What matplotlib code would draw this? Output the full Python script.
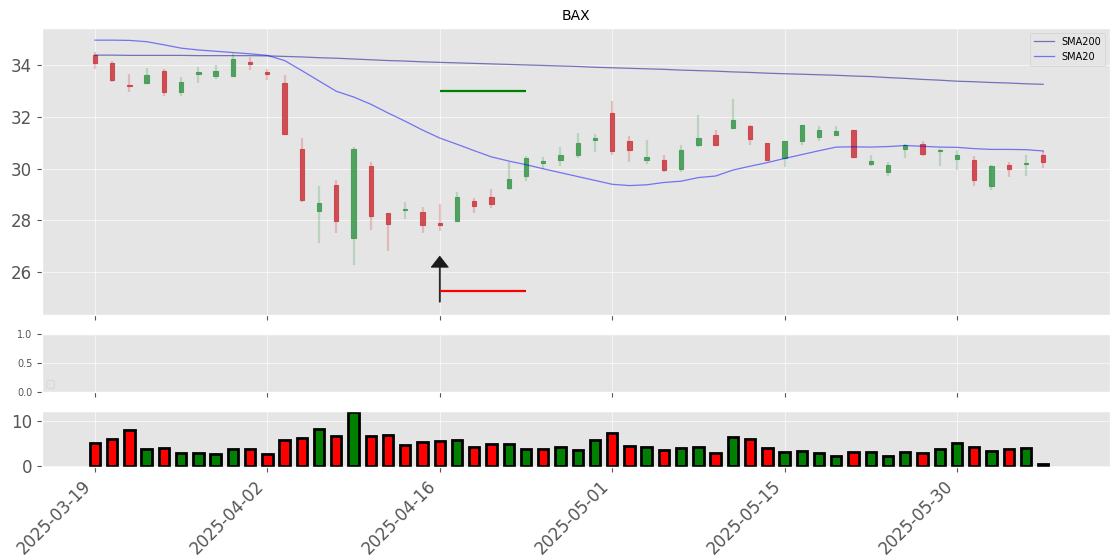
import numpy as np
import matplotlib
matplotlib.use("Agg")
import matplotlib.pyplot as plt

plt.style.use("ggplot")
plt.rcParams["grid.alpha"] = 0.6

# Data
ticker = "BAX"
tick_labels = ["2025-03-19", "2025-04-02", "2025-04-16", "2025-05-01", "2025-05-15", "2025-05-30"]

opens = [34.41, 34.09, 33.25, 33.32, 33.78, 32.96, 33.67, 33.61, 33.61, 34.13,
         33.74, 33.32, 30.78, 28.36, 29.39, 27.31, 30.11, 28.29, 28.40, 28.33,
         27.90, 27.97, 28.76, 28.91, 29.25, 29.71, 30.24, 30.33, 30.52, 31.12,
         32.16, 31.06, 30.33, 30.33, 29.98, 30.91, 31.30, 31.58, 31.64, 31.00,
         30.42, 31.08, 31.23, 31.29, 31.49, 30.17, 29.88, 30.75, 30.95, 30.69,
         30.37, 30.33, 29.34, 30.15, 30.17, 30.52]
highs = [34.54, 34.17, 33.68, 33.90, 33.85, 33.55, 33.94, 34.01, 34.48, 34.32,
         33.85, 33.64, 31.20, 29.34, 29.58, 30.84, 30.26, 28.29, 28.72, 28.53,
         28.62, 29.10, 28.85, 29.20, 30.26, 30.48, 30.46, 30.84, 31.38, 31.36,
         32.62, 31.26, 31.10, 30.52, 30.91, 32.07, 31.51, 32.69, 31.68, 31.00,
         31.06, 31.68, 31.64, 31.64, 31.51, 30.52, 30.26, 30.97, 31.08, 30.78,
         30.71, 30.48, 30.14, 30.26, 30.52, 30.69]
lows = [33.85, 33.36, 32.99, 33.29, 32.82, 32.80, 33.32, 33.48, 33.61, 33.81,
        33.42, 31.32, 28.72, 27.11, 27.52, 26.27, 27.62, 26.81, 28.07, 27.53,
        27.58, 27.97, 28.27, 28.50, 29.17, 29.52, 30.00, 30.10, 30.42, 30.65,
        30.55, 30.26, 30.20, 29.88, 29.88, 30.84, 30.87, 31.58, 30.91, 30.30,
        30.07, 30.91, 31.06, 31.26, 30.42, 30.10, 29.72, 30.42, 30.48, 30.10,
        29.94, 29.32, 29.17, 29.67, 29.71, 30.03]
closes = [34.09, 33.42, 33.20, 33.63, 32.96, 33.36, 33.73, 33.78, 34.25, 34.04,
          33.65, 31.36, 28.78, 28.68, 27.97, 30.77, 28.16, 27.86, 28.43, 27.82,
          27.82, 28.91, 28.56, 28.63, 29.61, 30.42, 30.29, 30.52, 31.00, 31.19,
          30.69, 30.71, 30.46, 29.97, 30.72, 31.20, 30.91, 31.87, 31.14, 30.33,
          31.06, 31.68, 31.49, 31.45, 30.45, 30.29, 30.14, 30.91, 30.59, 30.74,
          30.52, 29.56, 30.11, 29.98, 30.22, 30.25]

sma200 = [34.40, 34.40, 34.39, 34.39, 34.39, 34.39, 34.38, 34.38, 34.38, 34.38,
          34.37, 34.35, 34.33, 34.30, 34.28, 34.25, 34.22, 34.19, 34.17, 34.14,
          34.12, 34.10, 34.08, 34.06, 34.04, 34.02, 34.00, 33.98, 33.96, 33.93,
          33.91, 33.89, 33.87, 33.85, 33.82, 33.80, 33.78, 33.75, 33.73, 33.70,
          33.68, 33.66, 33.64, 33.62, 33.59, 33.57, 33.53, 33.50, 33.46, 33.43,
          33.39, 33.37, 33.34, 33.32, 33.29, 33.27]
sma20 = [34.98, 34.98, 34.97, 34.92, 34.80, 34.67, 34.60, 34.55, 34.50, 34.45,
         34.39, 34.19, 33.80, 33.40, 33.00, 32.78, 32.50, 32.16, 31.84, 31.50,
         31.19, 30.95, 30.70, 30.46, 30.30, 30.16, 30.00, 29.85, 29.70, 29.55,
         29.40, 29.35, 29.38, 29.47, 29.52, 29.66, 29.72, 29.95, 30.10, 30.24,
         30.40, 30.55, 30.70, 30.84, 30.85, 30.84, 30.86, 30.90, 30.87, 30.84,
         30.83, 30.78, 30.75, 30.75, 30.74, 30.69]

volume = [5.15, 5.9, 8.1, 3.65, 3.9, 2.8, 2.8, 2.55, 3.65, 3.65,
          2.6, 5.75, 6.1, 8.2, 6.7, 12.1, 6.7, 6.9, 4.7, 5.3,
          5.5, 5.8, 4.2, 4.9, 4.9, 3.7, 3.7, 4.2, 3.6, 5.8,
          7.3, 4.5, 4.2, 3.6, 4.0, 4.2, 2.8, 6.4, 6.0, 4.0,
          3.1, 3.3, 2.8, 2.2, 3.1, 3.1, 2.1, 3.1, 2.8, 3.7,
          5.1, 4.2, 3.3, 3.7, 4.0, 0.3]
vol_up = [0, 0, 0, 1, 0, 1, 1, 1, 1, 0,
          0, 0, 0, 1, 0, 1, 0, 0, 0, 0,
          0, 1, 0, 0, 1, 1, 0, 1, 1, 1,
          0, 0, 1, 0, 1, 1, 0, 1, 0, 0,
          1, 1, 1, 1, 0, 1, 1, 1, 0, 1,
          1, 0, 1, 0, 1, 1]

signal_idx = 20
signal_end = 25
arrow_low = 24.84
arrow_tip = 26.62
take_profit = 33.0
stop_loss = 25.27

n = len(closes)
x = np.arange(n)
o = np.array(opens)
c = np.array(closes)
up = c >= o
col = np.where(up, "#3c9a4e", "#cc3a40")

fig = plt.figure(figsize=(11.2, 5.6), dpi=100)
ax = fig.add_axes([0.0375, 0.4375, 0.9535, 0.5125])
ax_mid = fig.add_axes([0.0375, 0.300, 0.9535, 0.1036])
ax_vol = fig.add_axes([0.0375, 0.166, 0.9535, 0.100])

# candles
ax.vlines(x, lows, highs, colors=col, alpha=0.25, linewidth=1.6)
ax.bar(x, np.abs(c - o), bottom=np.minimum(o, c), width=0.25, color=col,
       edgecolor=col, linewidth=0.8, alpha=0.85)

ax.plot(x, sma200, color="darkblue", alpha=0.5, linewidth=0.9, label="SMA200")
ax.plot(x, sma20, color="blue", alpha=0.5, linewidth=0.9, label="SMA20")

ax.hlines(take_profit, signal_idx, signal_end, color="green", linewidth=1.6)
ax.hlines(stop_loss, signal_idx, signal_end, color="red", linewidth=1.6)
ax.arrow(signal_idx, arrow_low, 0, arrow_tip - arrow_low - 0.43, width=0.06,
         head_width=1.0, head_length=0.43, color="#1a1a1a")

ax.set_title(ticker, fontsize=10)
ax.legend(loc="upper right", fontsize=7)
ax.set_ylim(24.34, 35.45)
ax.set_yticks([26, 28, 30, 32, 34])
ax.tick_params(axis="y", labelsize=12)

# empty middle panel
ax_mid.set_ylim(0, 1)
ax_mid.set_yticks([0.0, 0.5, 1.0])
ax_mid.tick_params(axis="y", labelsize=7)
ax_mid.legend(handles=[], loc="lower left", borderpad=0.3, borderaxespad=0.3)

# volume
vcol = ["green" if u else "red" for u in vol_up]
ax_vol.bar(x, volume, width=0.6, color=vcol, edgecolor="black", linewidth=2)
ax_vol.set_ylim(-0.3, 12.25)
ax_vol.set_yticks([0, 10])
ax_vol.tick_params(axis="y", labelsize=12)

ticks = np.arange(0, n, 10)
for a in (ax, ax_mid, ax_vol):
    a.set_xlim(-3.07, 58.87)
    a.set_xticks(ticks)
    if a is not ax_vol:
        a.set_xticklabels([])
ax_vol.set_xticklabels(tick_labels, rotation=45, ha="right", fontsize=12)

fig.savefig("out.png", dpi=100)
